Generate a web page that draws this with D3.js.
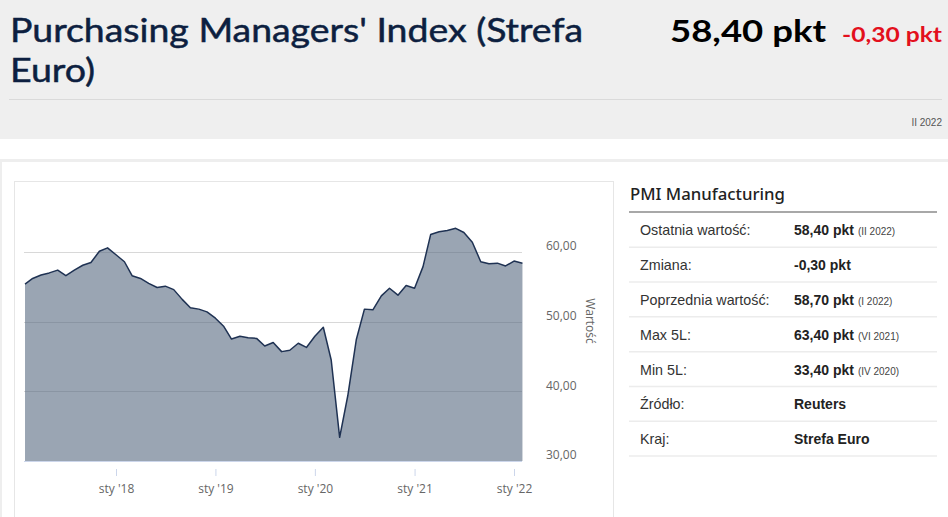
<!DOCTYPE html>
<html>
<head>
<meta charset="utf-8">
<script src="https://cdn.jsdelivr.net/npm/d3@7"></script>
<style>
  html, body { margin: 0; padding: 0; background: #fff; }
  svg { display: block; }
</style>
</head>
<body>
<div id="root"></div>
<script>
// ---------- DATA ----------
const months = [
  "2017-02","2017-03","2017-04","2017-05","2017-06","2017-07","2017-08","2017-09","2017-10","2017-11","2017-12",
  "2018-01","2018-02","2018-03","2018-04","2018-05","2018-06","2018-07","2018-08","2018-09","2018-10","2018-11","2018-12",
  "2019-01","2019-02","2019-03","2019-04","2019-05","2019-06","2019-07","2019-08","2019-09","2019-10","2019-11","2019-12",
  "2020-01","2020-02","2020-03","2020-04","2020-05","2020-06","2020-07","2020-08","2020-09","2020-10","2020-11","2020-12",
  "2021-01","2021-02","2021-03","2021-04","2021-05","2021-06","2021-07","2021-08","2021-09","2021-10","2021-11","2021-12",
  "2022-01","2022-02"
];
const pmiValues = [
  55.4, 56.2, 56.7, 57.0, 57.4, 56.6, 57.4, 58.1, 58.5, 60.1, 60.6,
  59.6, 58.6, 56.6, 56.2, 55.5, 54.9, 55.1, 54.6, 53.2, 52.0, 51.8, 51.4,
  50.5, 49.3, 47.5, 47.9, 47.7, 47.6, 46.5, 47.0, 45.7, 45.9, 46.9, 46.3,
  47.9, 49.2, 44.5, 33.4, 39.4, 47.4, 51.8, 51.7, 53.7, 54.8, 53.8, 55.2,
  54.8, 57.9, 62.5, 62.9, 63.1, 63.4, 62.8, 61.4, 58.6, 58.3, 58.4, 58.0,
  58.7, 58.4
];
const xTickMonths = ["2018-01","2019-01","2020-01","2021-01","2022-01"];
const xTickLabels = ["sty '18","sty '19","sty '20","sty '21","sty '22"];
const yTickValues = [30, 40, 50, 60];
const yTickLabels = ["30,00","40,00","50,00","60,00"];
const yAxisTitle = "Wartość";

const titleLines = ["Purchasing Managers' Index (Strefa", "Euro)"];
const headValue = "58,40 pkt";
const headChange = "-0,30 pkt";
const headPeriod = "II 2022";

const tableTitle = "PMI Manufacturing";
const rowLabels = ["Ostatnia wartość:","Zmiana:","Poprzednia wartość:","Max 5L:","Min 5L:","Źródło:","Kraj:"];
const rowValues = ["58,40 pkt","-0,30 pkt","58,70 pkt","63,40 pkt","33,40 pkt","Reuters","Strefa Euro"];
const rowNotes  = ["(II 2022)","","(I 2022)","(VI 2021)","(IV 2020)","",""];

// ---------- DRAW ----------
const W = 948, H = 517;
const parse = d3.utcParse("%Y-%m");
const data = months.map((m, i) => ({ date: parse(m), value: pmiValues[i] }));

const svg = d3.select("#root").append("svg").attr("width", W).attr("height", H);

// header
svg.append("rect").attr("x", 0).attr("y", 0).attr("width", W).attr("height", 139).attr("fill", "#efefef");
const titleFont = "Lato, 'Noto Sans', sans-serif";
svg.append("text").attr("x", 10).attr("y", 42).attr("font-family", titleFont)
  .attr("font-size", 33).attr("fill", "#0d1f40").attr("stroke", "#0d1f40").attr("stroke-width", 0.5)
  .text(titleLines[0])
  .attr("textLength", 573).attr("lengthAdjust", "spacingAndGlyphs");
svg.append("text").attr("x", 10).attr("y", 82).attr("font-family", titleFont)
  .attr("font-size", 33).attr("fill", "#0d1f40").attr("stroke", "#0d1f40").attr("stroke-width", 0.5)
  .text(titleLines[1])
  .attr("textLength", 85).attr("lengthAdjust", "spacingAndGlyphs");
svg.append("text").attr("x", 670).attr("y", 42).attr("font-family", titleFont)
  .attr("font-size", 31).attr("font-weight", 700).attr("fill", "#000").text(headValue)
  .attr("textLength", 156).attr("lengthAdjust", "spacingAndGlyphs");
svg.append("text").attr("x", 842).attr("y", 42).attr("font-family", titleFont)
  .attr("font-size", 20).attr("font-weight", 700).attr("fill", "#e3101d").text(headChange)
  .attr("textLength", 100).attr("lengthAdjust", "spacingAndGlyphs");
svg.append("line").attr("x1", 9).attr("x2", 942).attr("y1", 99.5).attr("y2", 99.5)
  .attr("stroke", "#dadada").attr("stroke-width", 1);
svg.append("text").attr("x", 942).attr("y", 126).attr("text-anchor", "end")
  .attr("font-family", "'Liberation Sans', Arial, sans-serif").attr("font-size", 10)
  .attr("fill", "#555").text(headPeriod);

// outer content box borders
svg.append("rect").attr("x", 0).attr("y", 159).attr("width", W).attr("height", 3).attr("fill", "#eeeeee");
svg.append("rect").attr("x", 0).attr("y", 159).attr("width", 2).attr("height", H - 159).attr("fill", "#eeeeee");

// chart panel
svg.append("rect").attr("x", 14.5).attr("y", 181.5).attr("width", 599).attr("height", 345)
  .attr("fill", "#fff").attr("stroke", "#e6e6e6").attr("stroke-width", 1);

const x = d3.scaleUtc()
  .domain([parse(xTickMonths[0]), parse(xTickMonths[xTickMonths.length - 1])])
  .range([116, 514]);
const y = d3.scaleLinear().domain([30, 60]).range([461, 252]);

const chartFont = "'Open Sans', 'Noto Sans', sans-serif";

// gridlines
svg.append("g").selectAll("line").data(yTickValues.filter(v => v > 30)).join("line")
  .attr("x1", 24).attr("x2", 522)
  .attr("y1", d => Math.round(y(d)) + 0.5).attr("y2", d => Math.round(y(d)) + 0.5)
  .attr("stroke", "#d8d8d8").attr("stroke-width", 1);

// area + line
const area = d3.area().x(d => x(d.date)).y0(y(30)).y1(d => y(d.value));
const line = d3.line().x(d => x(d.date)).y(d => y(d.value));
svg.append("path").datum(data).attr("d", area).attr("fill", "#54667e").attr("fill-opacity", 0.59);
svg.append("path").datum(data).attr("d", line).attr("fill", "none")
  .attr("stroke", "#1f3253").attr("stroke-width", 1.5).attr("stroke-linejoin", "round");

// x baseline
svg.append("line").attr("x1", 24).attr("x2", 522).attr("y1", 461.5).attr("y2", 461.5)
  .attr("stroke", "#ccd6eb").attr("stroke-width", 1);

// x axis
const xAxis = d3.axisBottom(x)
  .tickValues(xTickMonths.map(parse))
  .tickFormat((d, i) => xTickLabels[i])
  .tickSize(7).tickPadding(8);
const gx = svg.append("g").attr("transform", "translate(0,469)").call(xAxis);
gx.select(".domain").remove();
gx.selectAll(".tick line").attr("stroke", "#ccd6eb");
gx.selectAll(".tick text").attr("font-family", chartFont).attr("font-size", 12).attr("fill", "#666");

// y axis (right, labels only)
const yAxis = d3.axisRight(y).tickValues(yTickValues)
  .tickFormat((d, i) => yTickLabels[i]).tickSize(0).tickPadding(0);
const gy = svg.append("g").attr("transform", "translate(546,-6)").call(yAxis);
gy.select(".domain").remove();
gy.selectAll(".tick text").attr("font-family", chartFont).attr("font-size", 12).attr("fill", "#666");

svg.append("text").attr("transform", "translate(586,321) rotate(90)")
  .attr("text-anchor", "middle").attr("font-family", chartFont).attr("font-size", 12)
  .attr("fill", "#666").text(yAxisTitle);

// ---------- TABLE ----------
const tFont = "'Liberation Sans', Arial, sans-serif";
svg.append("text").attr("x", 630).attr("y", 200).attr("font-family", "'Noto Sans', sans-serif")
  .attr("font-size", 16.5).attr("font-weight", 500).attr("fill", "#222").text(tableTitle)
  .attr("textLength", 155).attr("lengthAdjust", "spacingAndGlyphs");
svg.append("line").attr("x1", 629).attr("x2", 937).attr("y1", 212).attr("y2", 212)
  .attr("stroke", "#a8a8a8").attr("stroke-width", 2);

const rowY = d3.scaleBand().domain(d3.range(rowLabels.length)).range([213, 456.5]);
const rows = svg.append("g").selectAll("g").data(rowLabels).join("g")
  .attr("transform", (d, i) => `translate(0,${rowY(i)})`);
rows.append("line").attr("x1", 629).attr("x2", 937)
  .attr("y1", rowY.bandwidth() - 0.5).attr("y2", rowY.bandwidth() - 0.5)
  .attr("stroke", "#ececec").attr("stroke-width", 1.5);
rows.append("text").attr("x", 640).attr("y", rowY.bandwidth() / 2 + 5)
  .attr("font-family", tFont).attr("font-size", 14.3).attr("fill", "#333").text(d => d);
const vt = rows.append("text").attr("x", 794).attr("y", rowY.bandwidth() / 2 + 5)
  .attr("font-family", tFont).attr("fill", "#222");
vt.append("tspan").attr("font-size", 14).attr("font-weight", 700).text((d, i) => rowValues[i]);
vt.append("tspan").attr("font-size", 10).attr("fill", "#444").attr("dx", 4)
  .text((d, i) => rowNotes[i]);
</script>
</body>
</html>
